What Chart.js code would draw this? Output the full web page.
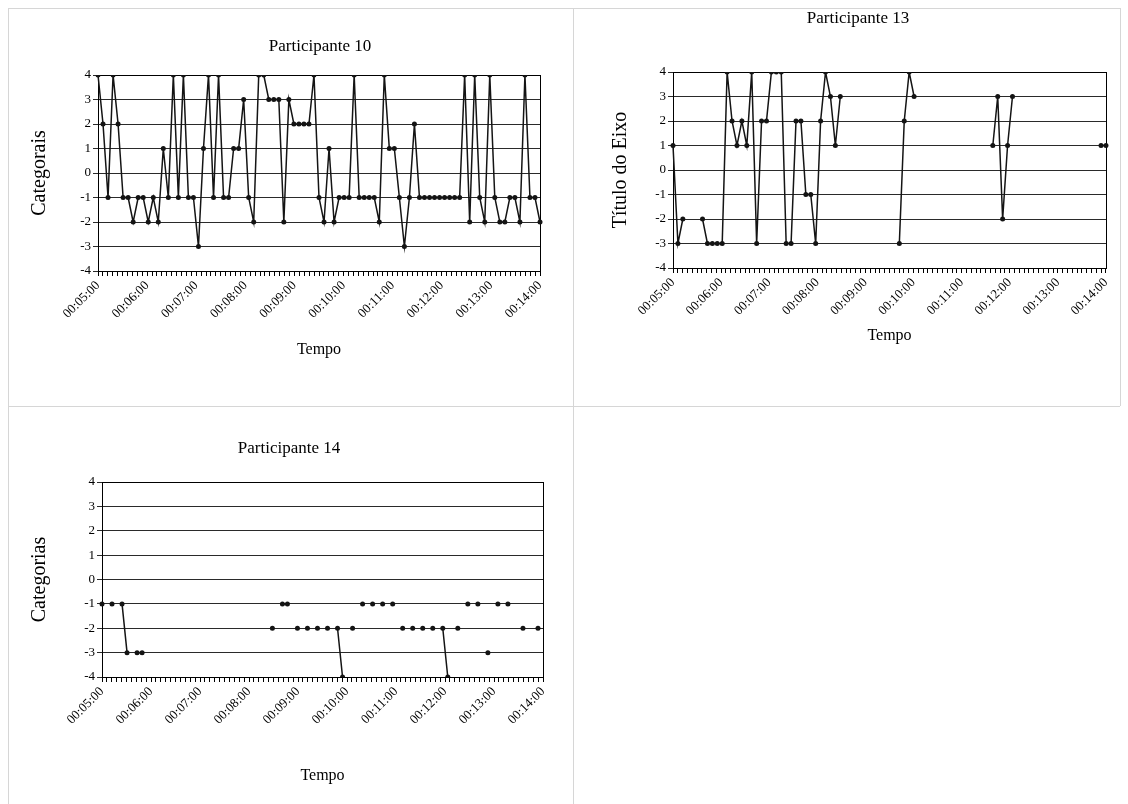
<!DOCTYPE html>
<html>
<head>
<meta charset="utf-8">
<script src="https://cdn.jsdelivr.net/npm/chart.js@4/dist/chart.umd.min.js"></script>
<style>
  body { margin: 0; background: #fff; width: 1128px; height: 804px; position: relative; overflow: hidden; }
  .linha { position: absolute; background: #d6d6d6; }
  canvas { position: absolute; }
</style>
</head>
<body>
<!-- linhas da tabela -->
<div class="linha" style="left:8px;top:8px;width:1112px;height:1px"></div>
<div class="linha" style="left:8px;top:406px;width:1112px;height:1px"></div>
<div class="linha" style="left:8px;top:8px;width:1px;height:796px"></div>
<div class="linha" style="left:573px;top:8px;width:1px;height:796px"></div>
<div class="linha" style="left:1120px;top:8px;width:1px;height:398px"></div>

<canvas id="g10" width="563" height="396" style="left:9px;top:9px"></canvas>
<canvas id="g13" width="545" height="400" style="left:574px;top:0px"></canvas>
<canvas id="g14" width="563" height="397" style="left:9px;top:407px"></canvas>

<script>
// eixo do tempo (segundos) e rótulos
const inicioSeg = 300;
const fimSeg = 840;
const passoSeg = 6;
const rotulosTempo = ['00:05:00', '00:06:00', '00:07:00', '00:08:00', '00:09:00',
    '00:10:00', '00:11:00', '00:12:00', '00:13:00', '00:14:00'];
const ticksY = [-4, -3, -2, -1, 0, 1, 2, 3, 4];

// categorias observadas em cada registro (null = sem registro)
const participante10 = [4, 2, -1, 4, 2, -1, -1, -2, -1, -1, -2, -1, -2, 1, -1, 4, -1, 4, -1, -1,
    -3, 1, 4, -1, 4, -1, -1, 1, 1, 3, -1, -2, 4, 4, 3, 3, 3, -2, 3, 2,
    2, 2, 2, 4, -1, -2, 1, -2, -1, -1, -1, 4, -1, -1, -1, -1, -2, 4, 1, 1,
    -1, -3, -1, 2, -1, -1, -1, -1, -1, -1, -1, -1, -1, 4, -2, 4, -1, -2, 4, -1,
    -2, -2, -1, -1, -2, 4, -1, -1, -2];

const participante13 = [1, -3, -2, null, null, null, -2, -3, -3, -3, -3, 4, 2, 1, 2, 1, 4, -3, 2, 2,
    4, 4, 4, -3, -3, 2, 2, -1, -1, -3, 2, 4, 3, 1, 3, null, null, null, null, null,
    null, null, null, null, null, null, -3, 2, 4, 3, null, null, null, null, null, null, null, null, null, null,
    null, null, null, null, null, 1, 3, -2, 1, 3, null, null, null, null, null, null, null, null, null, null,
    null, null, null, null, null, null, null, 1, 1];

const participante14 = [-1, null, -1, null, -1, -3, null, -3, -3, null, null, null, null, null, null, null, null, null, null, null,
    null, null, null, null, null, null, null, null, null, null, null, null, null, null, -2, null, -1, -1, null, -2,
    null, -2, null, -2, null, -2, null, -2, -4, null, -2, null, -1, null, -1, null, -1, null, -1, null,
    -2, null, -2, null, -2, null, -2, null, -2, -4, null, -2, null, -1, null, -1, null, -3, null, -1,
    null, -1, null, null, -2, null, null, -2, null];

const fonte = 'Liberation Serif';

// moldura da área do gráfico
const moldura = {
    id: 'moldura',
    beforeDatasetsDraw(chart) {
        const { ctx, chartArea: a } = chart;
        ctx.save();
        ctx.strokeStyle = '#000';
        ctx.lineWidth = 1;
        ctx.strokeRect(Math.round(a.left) + 0.5, Math.round(a.top) + 0.5,
            Math.round(a.right - a.left), Math.round(a.bottom - a.top));
        ctx.restore();
    }
};

// título do gráfico numa posição fixa (como no Excel)
const tituloFixo = {
    id: 'tituloFixo',
    afterDraw(chart, args, o) {
        const ctx = chart.ctx;
        ctx.save();
        ctx.fillStyle = '#000';
        ctx.font = '17px "' + fonte + '"';
        ctx.textAlign = 'center';
        ctx.textBaseline = 'middle';
        ctx.fillText(o.texto, o.x, o.y);
        ctx.restore();
    }
};

function rotuloTempo(valor) {
    if ((valor - inicioSeg) % 60 === 0) {
        return rotulosTempo[(valor - inicioSeg) / 60];
    }
    return '';
}

function criarGrafico(id, titulo, tituloY, valores, p) {
    const ctx = document.getElementById(id).getContext('2d');
    new Chart(ctx, {
        type: 'line',
        data: {
            labels: valores.map((_, i) => i),
            datasets: [{
                data: valores,
                xAxisID: 'x',
                yAxisID: 'y',
                borderColor: '#141414',
                borderWidth: 1.5,
                pointRadius: 2.5,
                pointBackgroundColor: '#141414',
                pointBorderWidth: 0,
                tension: 0,
                spanGaps: false
            }]
        },
        options: {
            responsive: false,
            animation: false,
            layout: { padding: { left: 0, right: p.dir, top: p.topo, bottom: 0 } },
            plugins: {
                legend: { display: false },
                tooltip: { enabled: false },
                title: { display: false },
                tituloFixo: { texto: titulo, x: p.titX, y: p.titY }
            },
            scales: {
                x: { type: 'category', display: false, offset: false },
                tempo: {
                    type: 'linear',
                    axis: 'x',
                    position: 'bottom',
                    min: inicioSeg,
                    max: fimSeg,
                    afterFit: function (s) { s.height = p.altX; },
                    grid: { drawOnChartArea: false, drawTicks: true, tickLength: 5, color: '#000' },
                    border: { display: true, color: '#000' },
                    ticks: {
                        stepSize: passoSeg,
                        autoSkip: false,
                        minRotation: 45,
                        maxRotation: 45,
                        padding: 2,
                        color: '#000',
                        font: { family: fonte, size: 13 },
                        callback: rotuloTempo
                    },
                    title: {
                        display: true,
                        text: 'Tempo',
                        color: '#000',
                        font: { family: fonte, size: 16 },
                        padding: { top: 0, bottom: p.tempoBase }
                    }
                },
                y: {
                    position: 'left',
                    min: -4,
                    max: 4,
                    afterFit: function (s) { s.width = p.largY; },
                    afterBuildTicks: function (s) { s.ticks = ticksY.map(v => ({ value: v })); },
                    grid: { color: '#2a2a2a', drawTicks: true, tickLength: 5 },
                    border: { display: true, color: '#000' },
                    ticks: { color: '#000', padding: 2, font: { family: fonte, size: 13 } },
                    title: {
                        display: true,
                        text: tituloY,
                        color: '#000',
                        font: { family: fonte, size: 20 },
                        padding: { top: p.eixoY, bottom: 0 }
                    }
                }
            }
        },
        plugins: [moldura, tituloFixo]
    });
}

criarGrafico('g10', 'Participante 10', 'Categorais', participante10,
    { dir: 32, topo: 66, titX: 311, titY: 38, altX: 134, tempoBase: 46, largY: 89, eixoY: 19 });
criarGrafico('g13', 'Participante 13', 'Título do Eixo', participante13,
    { dir: 4, topo: 72, titX: 284, titY: 19, altX: 132, tempoBase: 55, largY: 99, eixoY: 35 });
criarGrafico('g14', 'Participante 14', 'Categorias', participante14,
    { dir: 29, topo: 75, titX: 280, titY: 42, altX: 127, tempoBase: 19, largY: 93, eixoY: 19 });
</script>
</body>
</html>
